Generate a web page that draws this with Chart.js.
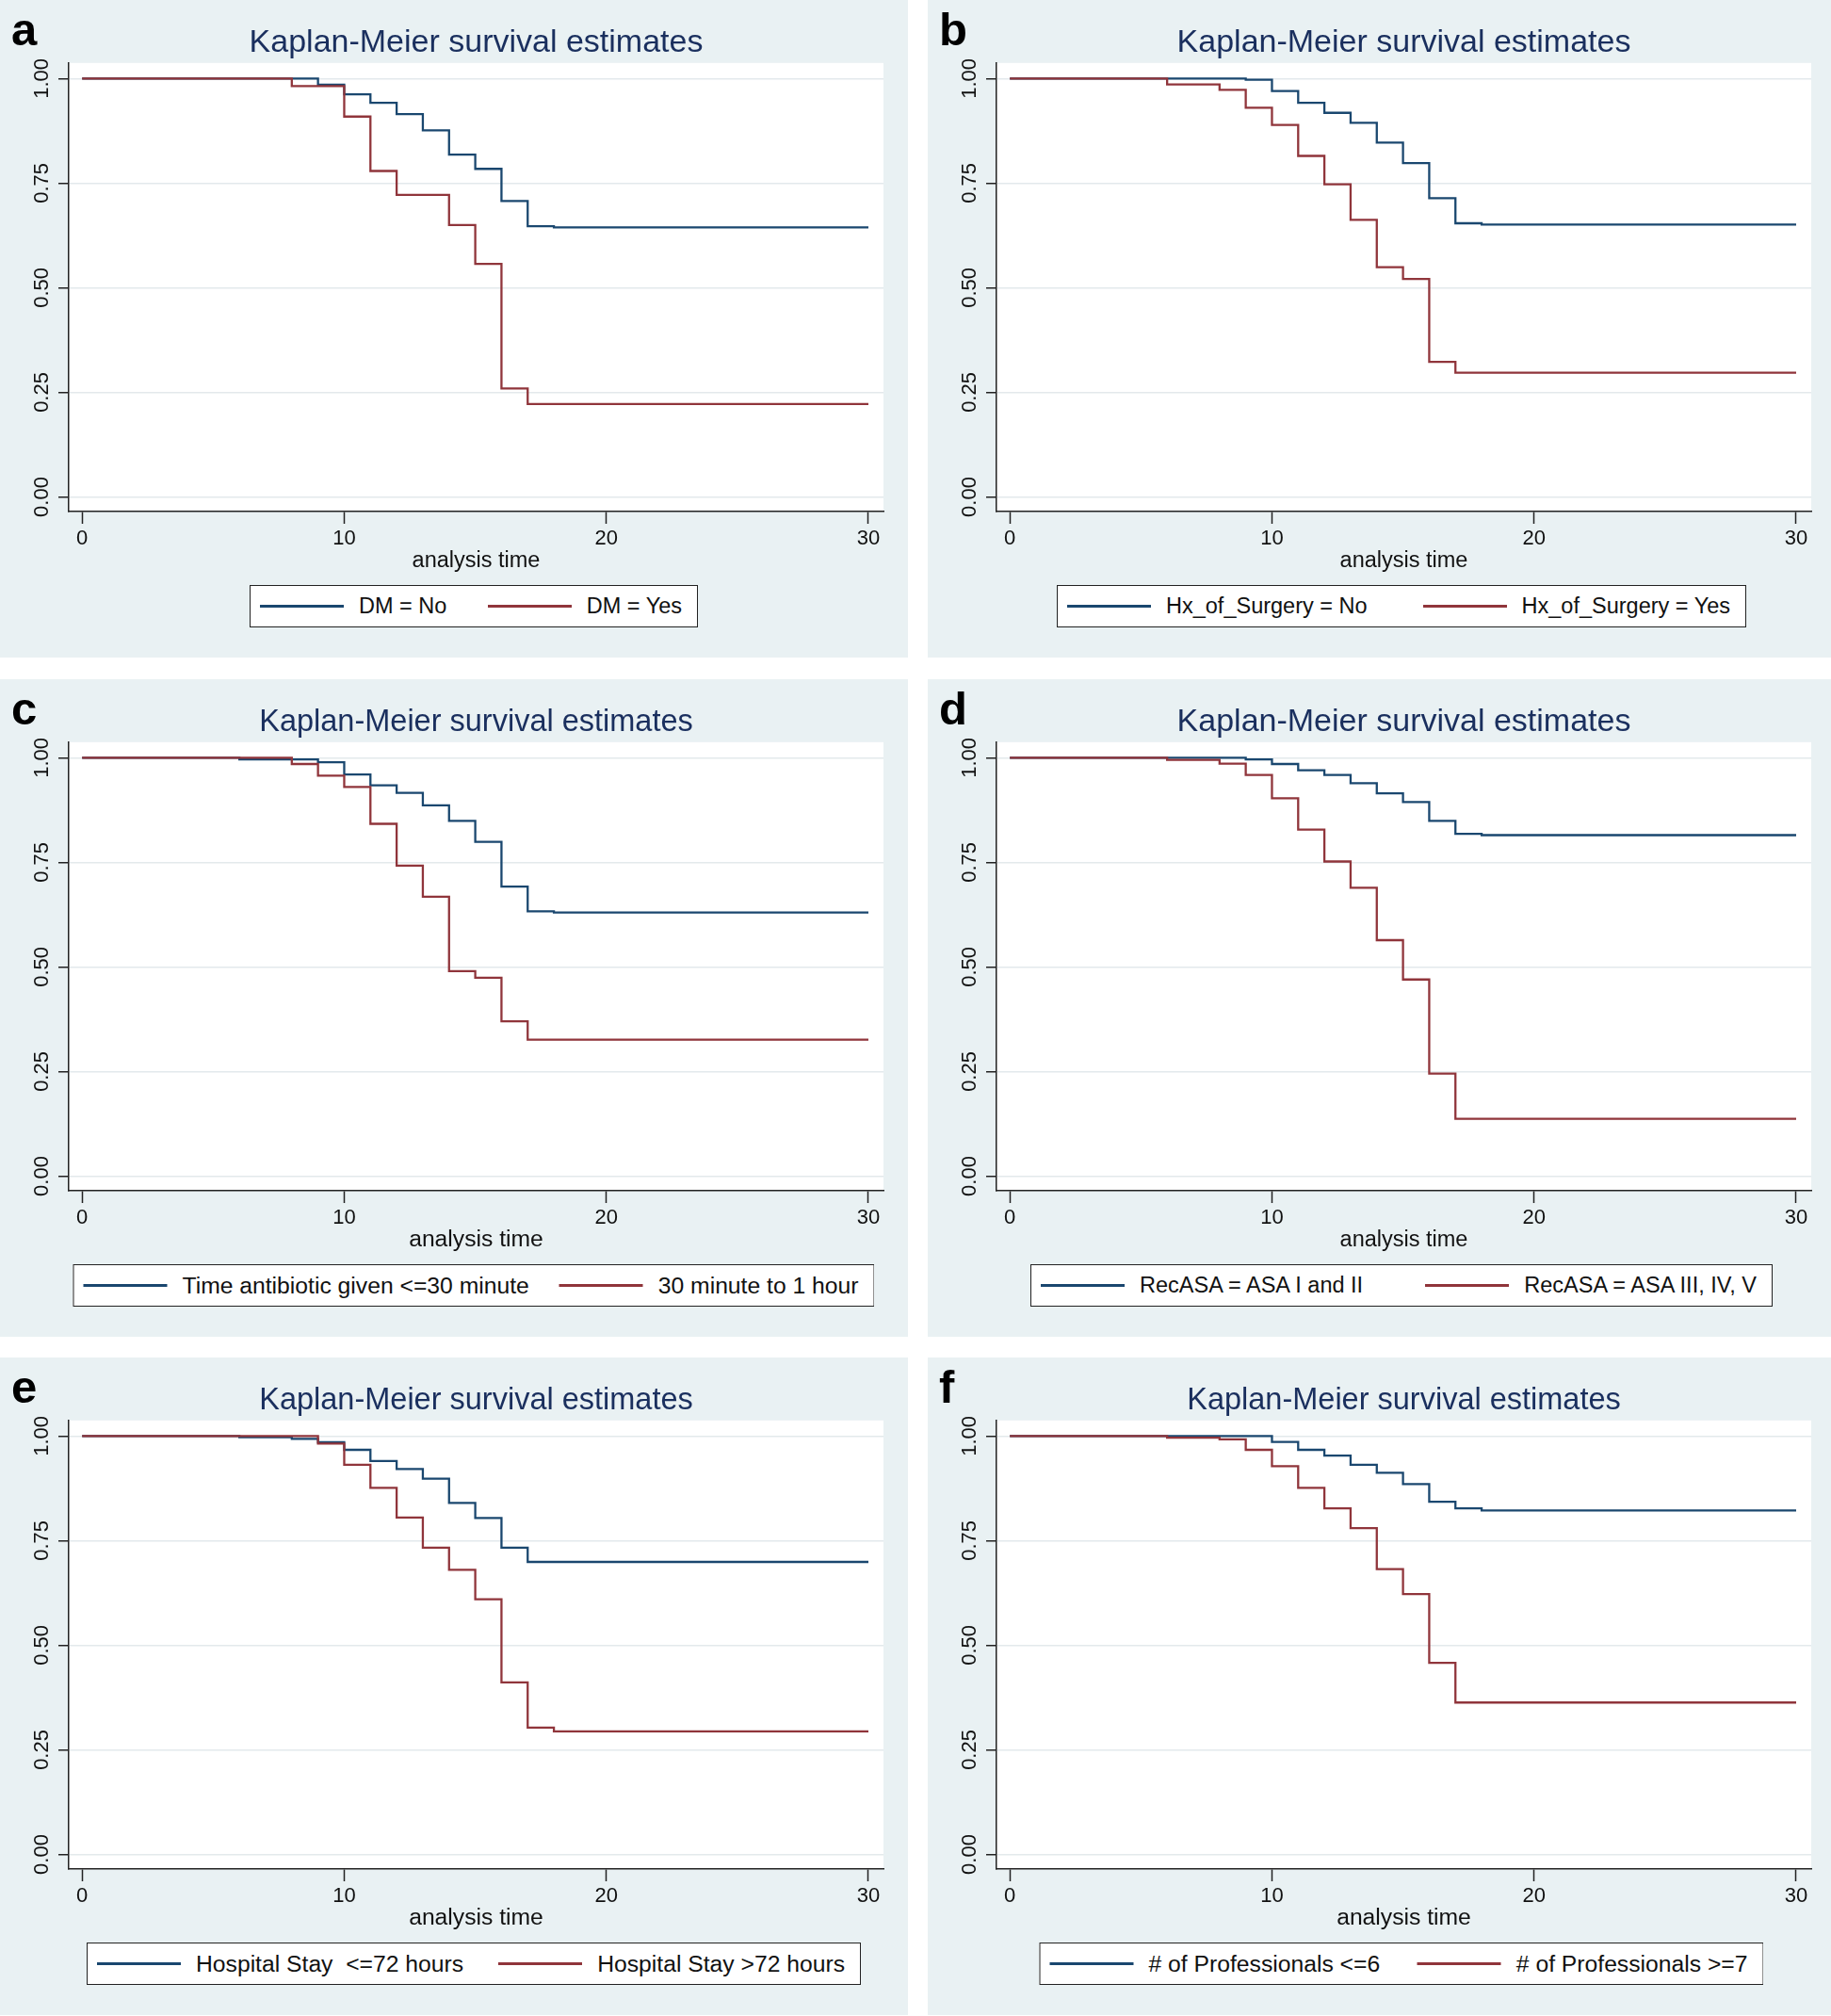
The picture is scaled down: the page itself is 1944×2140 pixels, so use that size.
<!DOCTYPE html>
<html>
<head>
<meta charset="utf-8">
<title>Kaplan-Meier survival estimates</title>
<script src="https://cdn.jsdelivr.net/npm/chart.js@4.4.1/dist/chart.umd.min.js"></script>
<style>
  html, body { margin: 0; padding: 0; background: #fff; width: 1944px; height: 2140px; overflow: hidden; }
  body { position: relative; font-family: 'Liberation Sans', Arial, sans-serif; }
  .panel { position: absolute; width: 964px; height: 698px; background: #e9f1f3; }
  .panel canvas { position: absolute; left: 0; top: 0; }
  .letter { position: absolute; left: 12px; top: 7px; font: bold 49px 'Liberation Sans', Arial, sans-serif; line-height: 1; color: #000; }
  .legend {
    position: absolute; top: 621px; height: 45px; left: 503px; transform: translateX(-50%);
    box-sizing: border-box; border: 1.5px solid #222; background: #fff;
    display: flex; align-items: center; justify-content: space-between;
    padding: 0 16px 0 10px; white-space: pre;
    color: #111;
  }
  .item { display: flex; align-items: center; }
  .key { display: inline-block; width: 89px; height: 2.2px; margin-right: 16px; }
</style>
</head>
<body>
<script>
// time points where the curves step (survival value holds after each time)
const times = [0, 6, 8, 9, 10, 11, 12, 13, 14, 15, 16, 17, 18, 30];
const xTicks = [0, 10, 20, 30];
const yTicks = [0, 0.25, 0.5, 0.75, 1];
const yTickLabels = ["0.00", "0.25", "0.50", "0.75", "1.00"];
const chartTitle = "Kaplan-Meier survival estimates";
const xAxisTitle = "analysis time";

// a
const labelsA = ["DM = No", "DM = Yes"];
const survA1 = [1, 1, 1, 0.985, 0.962, 0.942, 0.915, 0.876, 0.818, 0.784, 0.707, 0.647, 0.644, 0.644];
const survA2 = [1, 1, 0.982, 0.982, 0.909, 0.779, 0.722, 0.722, 0.650, 0.557, 0.259, 0.222, 0.222, 0.222];
// b
const labelsB = ["Hx_of_Surgery = No", "Hx_of_Surgery = Yes"];
const survB1 = [1, 1, 1, 0.997, 0.970, 0.942, 0.918, 0.894, 0.847, 0.798, 0.714, 0.654, 0.651, 0.651];
const survB2 = [1, 0.986, 0.973, 0.930, 0.889, 0.815, 0.747, 0.662, 0.549, 0.521, 0.323, 0.297, 0.297, 0.297];
// c
const labelsC = ["Time antibiotic given <=30 minute", "30 minute to 1 hour"];
const survC1 = [1, 0.996, 0.996, 0.989, 0.960, 0.934, 0.916, 0.886, 0.849, 0.799, 0.692, 0.633, 0.630, 0.630];
const survC2 = [1, 1, 0.985, 0.957, 0.930, 0.842, 0.742, 0.668, 0.490, 0.474, 0.370, 0.326, 0.326, 0.326];
// d
const labelsD = ["RecASA = ASA I and II", "RecASA = ASA III, IV, V"];
const survD1 = [1, 1, 1, 0.996, 0.985, 0.970, 0.959, 0.939, 0.915, 0.894, 0.849, 0.818, 0.815, 0.815];
const survD2 = [1, 0.995, 0.986, 0.959, 0.903, 0.828, 0.752, 0.689, 0.564, 0.470, 0.245, 0.137, 0.137, 0.137];
// e
const labelsE = ["Hospital Stay  <=72 hours", "Hospital Stay >72 hours"];
const survE1 = [1, 0.997, 0.993, 0.985, 0.967, 0.940, 0.921, 0.898, 0.840, 0.804, 0.733, 0.699, 0.699, 0.699];
const survE2 = [1, 1, 1, 0.982, 0.931, 0.876, 0.805, 0.733, 0.680, 0.610, 0.411, 0.303, 0.294, 0.294];
// f
const labelsF = ["# of Professionals <=6", "# of Professionals >=7"];
const survF1 = [1, 1, 1, 1, 0.986, 0.967, 0.953, 0.931, 0.912, 0.885, 0.843, 0.827, 0.822, 0.822];
const survF2 = [1, 0.996, 0.992, 0.967, 0.928, 0.876, 0.827, 0.780, 0.682, 0.622, 0.458, 0.363, 0.363, 0.363];

const colorNo = "#1a476f";
const colorYes = "#90353b";
const fontFamily = "'Liberation Sans', Arial, sans-serif";

// the c/e/f panels were exported at a slightly different text scale
const panels = [
  { letter: "a", left: 0,   top: 0,    labels: labelsA, s1: survA1, s2: survA2, titleSize: 34,   textSize: 23.5, legendW: 476 },
  { letter: "b", left: 985, top: 0,    labels: labelsB, s1: survB1, s2: survB2, titleSize: 34,   textSize: 23.5, legendW: 732 },
  { letter: "c", left: 0,   top: 721,  labels: labelsC, s1: survC1, s2: survC2, titleSize: 32.5, textSize: 24.7, legendW: 851 },
  { letter: "d", left: 985, top: 721,  labels: labelsD, s1: survD1, s2: survD2, titleSize: 34,   textSize: 23.5, legendW: 788 },
  { letter: "e", left: 0,   top: 1441, labels: labelsE, s1: survE1, s2: survE2, titleSize: 32.5, textSize: 24.7, legendW: 822 },
  { letter: "f", left: 985, top: 1441, labels: labelsF, s1: survF1, s2: survF2, titleSize: 32.5, textSize: 24.7, legendW: 769 }
];

Chart.defaults.font.family = fontFamily;

// white plot region like stata's plotregion
const plotBg = {
  id: "plotBg",
  beforeDraw(chart) {
    const { ctx, chartArea: a } = chart;
    ctx.save();
    ctx.fillStyle = "#fff";
    ctx.fillRect(a.left, a.top, a.right - a.left, a.bottom - a.top);
    ctx.restore();
  }
};

// y labels are vertical (read bottom to top)
const yLabels = {
  id: "yLabels",
  afterDraw(chart) {
    const { ctx, chartArea } = chart;
    const ys = chart.scales.y;
    ctx.save();
    ctx.font = "22px " + fontFamily;
    ctx.fillStyle = "#111";
    ctx.textAlign = "center";
    ctx.textBaseline = "alphabetic";
    yTicks.forEach((v, i) => {
      ctx.save();
      ctx.translate(chartArea.left - 22.5, ys.getPixelForValue(v));
      ctx.rotate(-Math.PI / 2);
      ctx.fillText(yTickLabels[i], 0, 0);
      ctx.restore();
    });
    ctx.restore();
  }
};

function makePanel(p) {
  const div = document.createElement("div");
  div.className = "panel";
  div.style.left = p.left + "px";
  div.style.top = p.top + "px";

  const canvas = document.createElement("canvas");
  canvas.width = 964;
  canvas.height = 698;
  canvas.style.width = "964px";
  canvas.style.height = "698px";
  div.appendChild(canvas);

  const letter = document.createElement("div");
  letter.className = "letter";
  letter.textContent = p.letter;
  div.appendChild(letter);

  const legend = document.createElement("div");
  legend.className = "legend";
  legend.style.width = p.legendW + "px";
  legend.style.fontSize = p.textSize + "px";
  [[p.labels[0], colorNo], [p.labels[1], colorYes]].forEach(([txt, col]) => {
    const item = document.createElement("span");
    item.className = "item";
    const key = document.createElement("span");
    key.className = "key";
    key.style.background = col;
    const lab = document.createElement("span");
    lab.textContent = txt;
    item.appendChild(key);
    item.appendChild(lab);
    legend.appendChild(item);
  });
  div.appendChild(legend);
  document.body.appendChild(div);

  new Chart(canvas, {
    type: "line",
    data: {
      datasets: [
        {
          label: p.labels[0],
          data: times.map((t, i) => ({ x: t, y: p.s1[i] })),
          borderColor: colorNo,
          order: 1
        },
        {
          label: p.labels[1],
          data: times.map((t, i) => ({ x: t, y: p.s2[i] })),
          borderColor: colorYes,
          order: 0
        }
      ]
    },
    options: {
      responsive: false,
      animation: false,
      devicePixelRatio: 1,
      layout: { padding: { left: 0, right: 26, top: 0, bottom: 88 } },
      datasets: {
        line: { stepped: true, borderWidth: 2.3, pointRadius: 0, fill: false, tension: 0 }
      },
      plugins: {
        legend: { display: false },
        tooltip: { enabled: false },
        title: {
          display: true,
          text: chartTitle,
          fullSize: false,
          color: "#1a2f5e",
          font: { size: p.titleSize, weight: "normal", lineHeight: 1.2 },
          padding: { top: 66.8 - p.titleSize * 1.2 - 1, bottom: 1 }
        }
      },
      scales: {
        x: {
          type: "linear",
          min: -0.51,
          max: 30.575,
          afterBuildTicks: s => { s.ticks = xTicks.map(v => ({ value: v })); },
          afterFit: s => { s.height = 67; },
          ticks: { font: { size: 22 }, color: "#111", padding: 3, maxRotation: 0, autoSkip: false, callback: v => String(v) },
          grid: { display: true, drawOnChartArea: false, drawTicks: true, tickLength: 13, tickColor: "#222", tickWidth: 1.5 },
          border: { display: true, color: "#222", width: 1.5 },
          title: { display: true, text: xAxisTitle, color: "#111", font: { size: p.textSize }, padding: 0 }
        },
        y: {
          type: "linear",
          min: -0.0349,
          max: 1.0372,
          afterBuildTicks: s => { s.ticks = yTicks.map(v => ({ value: v })); },
          afterFit: s => { s.width = 73; },
          ticks: { display: false },
          grid: { color: "#e3e9ec", lineWidth: 1.5, drawTicks: true, tickLength: 11, tickColor: "#222", tickWidth: 1.5 },
          border: { display: true, color: "#222", width: 1.5 }
        }
      }
    },
    plugins: [plotBg, yLabels]
  });
}

panels.forEach(makePanel);
</script>
</body>
</html>
